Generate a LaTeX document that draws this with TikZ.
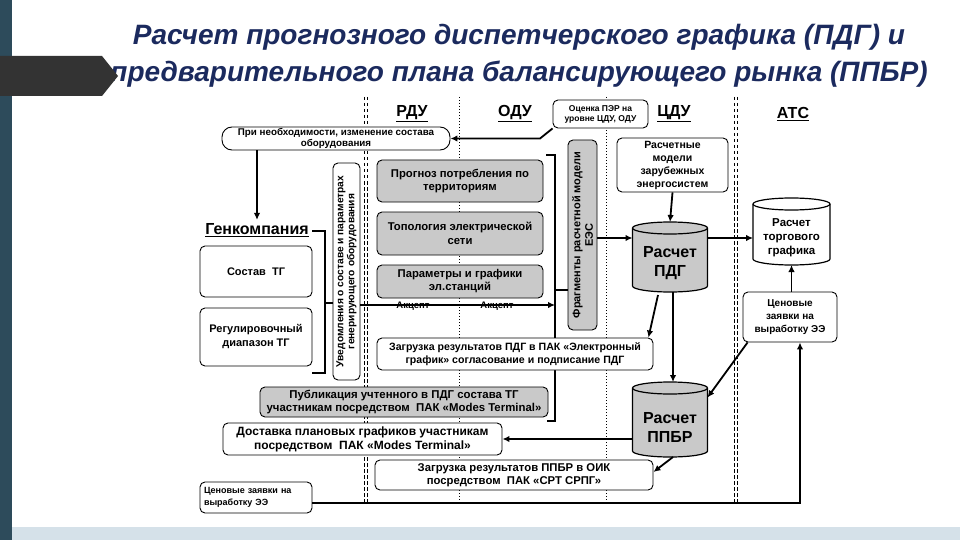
\documentclass[tikz,border=0pt]{standalone}
\usepackage{fontspec}
\setmainfont{Liberation Sans}
\usetikzlibrary{arrows.meta,calc}
\definecolor{navy}{HTML}{1B2A5E}
\definecolor{slate}{HTML}{2D4B5B}
\definecolor{bannercol}{HTML}{333333}
\definecolor{strip}{HTML}{D5E1E9}
\definecolor{gfill}{HTML}{C9C9C9}
\newcommand{\fsz}[2]{\fontsize{#1pt}{#2pt}\selectfont\bfseries}
\newcommand{\mycyl}[3]{%
  \path[draw=black,line width=1.2pt,fill=#3] (#1.north west) -- (#1.south west)
    arc[start angle=180,end angle=360,x radius=#2pt,y radius=6pt] -- (#1.north east)
    arc[start angle=0,end angle=180,x radius=#2pt,y radius=6pt] -- cycle;
  \draw[line width=1.2pt] (#1.north west) arc[start angle=180,end angle=360,x radius=#2pt,y radius=6pt];
}
\pgfdeclarelayer{back}
\pgfdeclarelayer{bg}
\pgfsetlayers{back,bg,main}
\begin{document}
\begin{tikzpicture}[x=1pt,y=-1pt,
  box/.style={draw=black,line width=0.9pt,rounded corners=5pt,fill=white,align=center,inner sep=1pt},
  gbox/.style={box,fill=gfill},
  geo/.style={inner sep=0pt,outer sep=0pt},
  arr/.style={line width=1.8pt,-{Latex[length=7pt,width=6.5pt]}},
  ln/.style={line width=1.8pt},
  hdr/.style={font=\fsz{16}{18}},
  dsep/.style={line width=1pt,dash pattern=on 3.5pt off 2.5pt},
  dotsep/.style={line width=1pt,dash pattern=on 1.2pt off 1.8pt},
  ttl/.style={anchor=base,font=\fontsize{28}{32}\selectfont\bfseries\itshape,text=navy}]

\useasboundingbox (0,0) rectangle (960,540);
\begin{pgfonlayer}{back}
\fill[white] (0,0) rectangle (960,540);
\fill[strip] (0,527) rectangle (960,540);
\fill[slate] (0,0) rectangle (12,540);
\end{pgfonlayer}

% title
\node[ttl] (t1) at (519,45) {Расчет прогнозного диспетчерского графика (ПДГ) и};
\node[ttl] (t2) at (519,82) {предварительного плана балансирующего рынка (ППБР)};
\fill[bannercol] (0,56) -- (102,56) -- (118,76) -- (102,96) -- (0,96) -- cycle;

% headers
\node[hdr] (rdu) at (412,114) {\underline{РДУ}};
\node[hdr] (odu) at (515,114) {\underline{ОДУ}};
\node[hdr] (cdu) at (674,114) {\underline{ЦДУ}};
\node[hdr] (ats) at (793,114) {\underline{АТС}};

% boxes
\node[box,rounded corners=10pt,minimum width=228,minimum height=23,font=\fsz{9.8}{10.5}] (need) at (336,138.5) {При необходимости, изменение состава\\оборудования};
\node[box,minimum width=95,minimum height=28,font=\fsz{8.5}{10}] (otsenka) at (600.5,114) {Оценка ПЭР на\\уровне ЦДУ, ОДУ};
\node[font=\fsz{16}{18}] (genco) at (257,230) {\underline{Генкомпания}};
\node[box,minimum width=112,minimum height=51,font=\fsz{11}{13}] (sostav) at (256,271.5) {Состав~~ТГ};
\node[box,minimum width=112,minimum height=58,font=\fsz{11}{14}] (regul) at (256,337) {Регулировочный\\диапазон ТГ};
\node[box,rotate=90,minimum width=217,minimum height=27,font=\fsz{10.2}{11}] (uved) at (346.5,271.5) {Уведомления о составе и параметрах\\генерирующего оборудования};
\node[gbox,minimum width=166,minimum height=42,font=\fsz{11.3}{13.5}] (prognoz) at (460,181) {Прогноз потребления по\\территориям};
\node[gbox,minimum width=166,minimum height=43,font=\fsz{11.3}{13.5}] (topol) at (460,233.5) {Топология электрической\\сети};
\node[gbox,minimum width=166,minimum height=33,font=\fsz{11.3}{13}] (param) at (460,281.5) {Параметры и графики\\эл.станций};
\node[gbox,rotate=90,minimum width=190,minimum height=29,font=\fsz{11}{12.5}] (fragm) at (582.5,235) {Фрагменты расчетной модели\\ЕЭС};
\node[box,minimum width=276,minimum height=32,font=\fsz{10.6}{13}] (zagrPDG) at (515,354) {Загрузка результатов ПДГ в ПАК «Электронный\\график» согласование и подписание ПДГ};
\node[gbox,minimum width=288,minimum height=30,font=\fsz{11.4}{13}] (publ) at (404,402) {Публикация учтенного в ПДГ состава ТГ\\участникам посредством~ ПАК «Modes Terminal»};
\node[box,minimum width=279,minimum height=32,font=\fsz{12}{14}] (dostavka) at (362.5,439) {Доставка плановых графиков участникам\\посредством~ ПАК «Modes Terminal»};
\node[box,minimum width=278,minimum height=30,font=\fsz{11.3}{13.5}] (zagrPPBR) at (514,475) {Загрузка результатов ППБР в ОИК\\посредством~ ПАК «СРТ СРПГ»};
\node[box,inner xsep=4pt,text width=104pt,minimum height=31,align=left,font=\fsz{9}{11.5}] (cenL) at (256,497.5) {Ценовые заявки на\\выработку ЭЭ};
\node[box,minimum width=111,minimum height=54,font=\fsz{10.5}{13}] (models) at (672.5,165) {Расчетные\\модели\\зарубежных\\энергосистем};
\node[box,minimum width=94,minimum height=50,font=\fsz{10}{13}] (cenATS) at (790,317) {Ценовые\\заявки на\\выработку ЭЭ};

% cylinders
\node[geo,minimum width=75,minimum height=58] (pdg) at (670,257) {};
\mycyl{pdg}{37.5}{gfill}
\node[align=center,font=\fsz{16}{19}] (pdgtxt) at (670,263) {Расчет\\ПДГ};
\node[geo,minimum width=75,minimum height=63] (ppbr) at (670,419.5) {};
\mycyl{ppbr}{37.5}{gfill}
\node[align=center,font=\fsz{16}{19}] (ppbrtxt) at (670,427) {Расчет\\ППБР};
\node[geo,minimum width=77,minimum height=55] (trade) at (791.5,231.5) {};
\mycyl{trade}{38.5}{white}
\node[align=center,font=\fsz{11.5}{14}] (tradetxt) at (791.5,238) {Расчет\\торгового\\графика};

% coordinates
\coordinate (ok) at (540,138.5);
\coordinate (gb1) at (325,231);
\coordinate (gb2) at (325,373);
\coordinate (gb3) at (312,373);
\coordinate (gt) at (325,303);
\coordinate (bt) at (555,155);
\coordinate (bb) at (555,421);
\coordinate (bm) at (555,290);
\coordinate (ak) at (555,305);
\coordinate (py) at (0,238);
\coordinate (c1) at (800,503);

\begin{pgfonlayer}{bg}
  \draw[dsep] (364.5,97) -- (364.5,503);
  \draw[dsep] (367.5,97) -- (367.5,503);
  \draw[dsep] (734.5,97) -- (734.5,503);
  \draw[dsep] (737.5,97) -- (737.5,503);
  \draw[dotsep] (459,97) -- (459,503);
  \draw[dotsep] (606,97) -- (606,503);
  \draw[ln] ([xshift=-9pt]bt) -- (bt) -- (bb) -- ([xshift=-8pt]bb);
\end{pgfonlayer}

% connectors
\draw[arr] (otsenka.south west) -- (ok) -- (need.east);
\draw[arr] (genco.north |- need.south) -- (genco.north);
\draw[line width=1.5pt] (genco.east |- gb1) -- (gb1) -- (gb2) -- (gb3);
\draw[line width=1.5pt] (gt) -- (uved.north |- gt);
\draw[arr] (uved.south |- ak) -- (ak);
\node[anchor=north,font=\fsz{9.5}{11},inner sep=0pt] (ak1) at (413,302) {Акцепт};
\node[anchor=north,font=\fsz{9.5}{11},inner sep=0pt] (ak2) at (497,302) {Акцепт};
\draw[ln] (bm) -- (fragm.north |- bm);
\draw[arr] (fragm.south |- py) -- (pdg.west |- py);
\draw[arr] (models.south) -- ([yshift=6pt]pdg.north);
\draw[arr] (pdg.east |- py) -- (trade.west |- py);
\draw[arr] ([xshift=-12pt,yshift=-9pt]pdg.south) -- ([xshift=-5pt]zagrPDG.north east);
\draw[arr] ([xshift=3pt,yshift=-6pt]pdg.south) -- ([xshift=3pt,yshift=6pt]ppbr.north);
\draw[arr] (ppbr.west |- dostavka.east) -- (dostavka.east);
\draw[arr] ([xshift=3pt,yshift=-6pt]ppbr.south) -- ([yshift=3pt]zagrPPBR.east);
\draw[arr] ([xshift=5pt]cenATS.south west) -- ([yshift=22pt]ppbr.east);
\draw[arr] (trade.south |- cenATS.north) -- ([yshift=-6pt]trade.south);
\draw[arr] (cenL.east |- c1) -- (c1) -- (c1 |- cenATS.south);
\end{tikzpicture}
\end{document}
